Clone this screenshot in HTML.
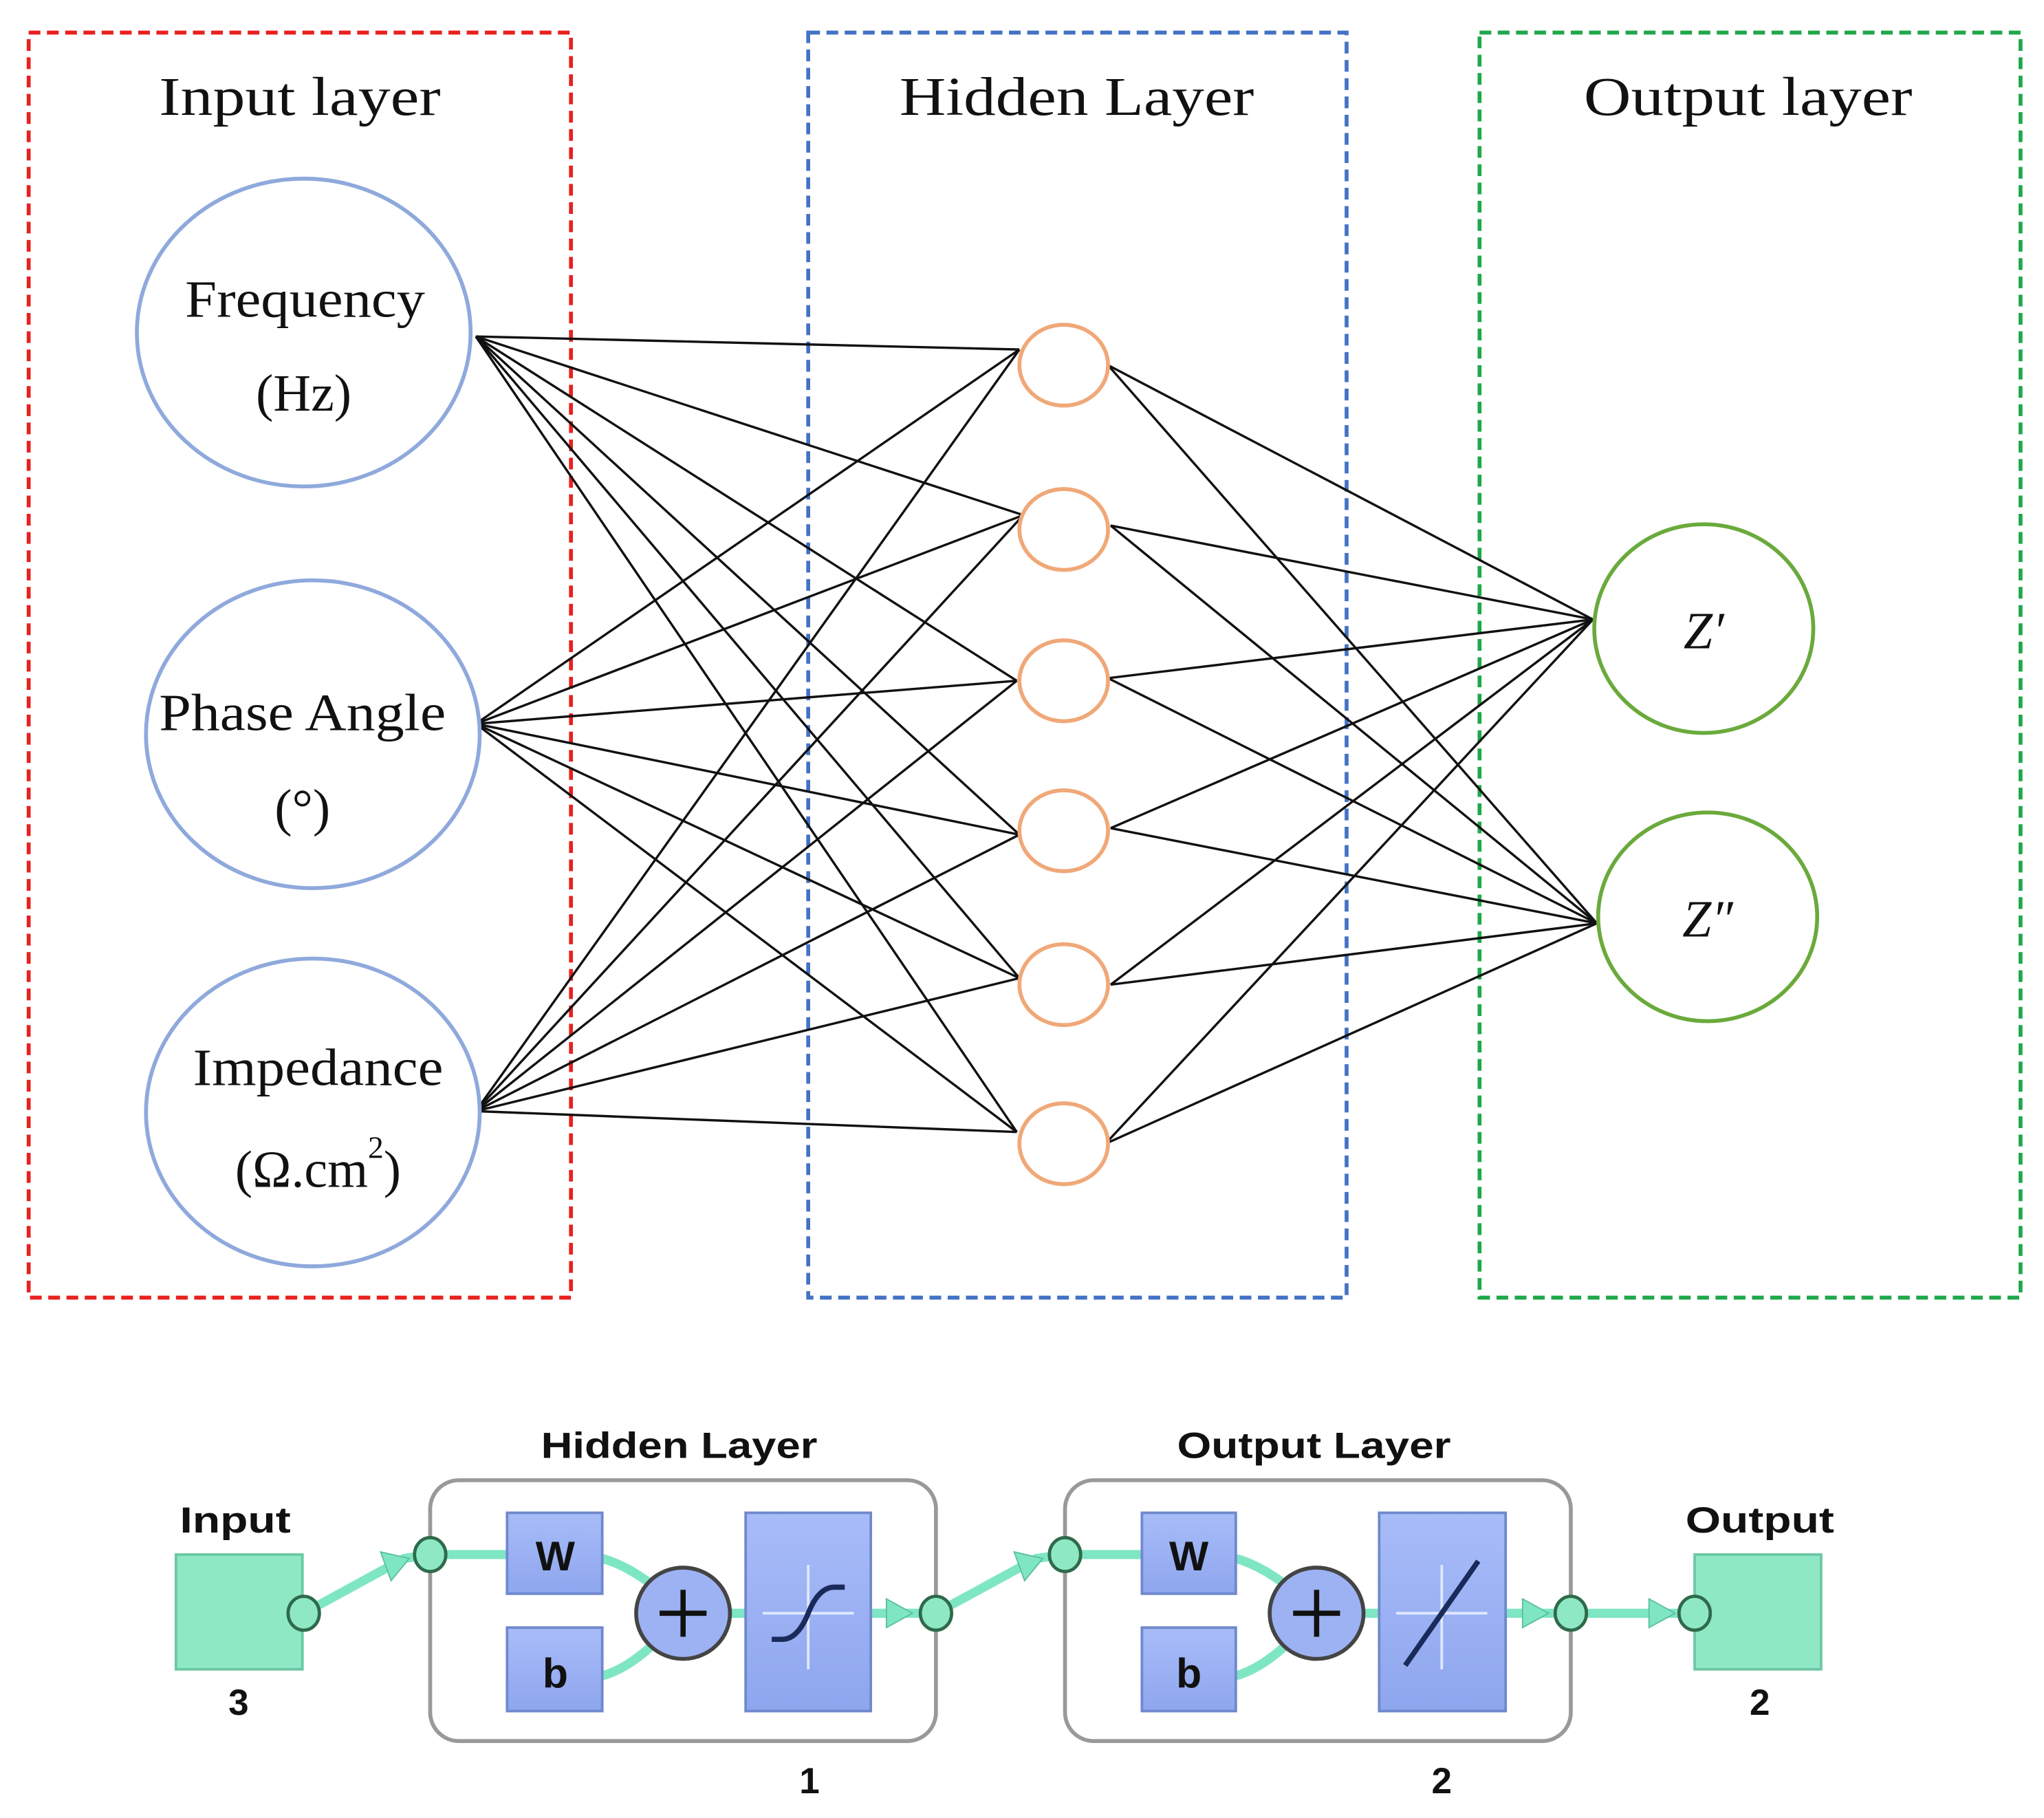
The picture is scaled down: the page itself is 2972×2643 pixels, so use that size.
<!DOCTYPE html>
<html><head><meta charset="utf-8"><style>
html,body{margin:0;padding:0;background:#fff;}
svg{display:block}
.t{font-family:"Liberation Serif",serif;fill:#111}
.s{font-family:"Liberation Sans",sans-serif;font-weight:bold;fill:#111}
</style></head><body>
<svg width="2972" height="2643" viewBox="0 0 1568 1394" preserveAspectRatio="none" xmlns="http://www.w3.org/2000/svg">
<defs>
<linearGradient id="bl" x1="0" y1="0" x2="0" y2="1"><stop offset="0" stop-color="#a8bcf8"/><stop offset="1" stop-color="#8ea6ee"/></linearGradient>
</defs>
<rect x="22" y="25" width="416" height="970" fill="none" stroke="#e8211f" stroke-width="3" stroke-dasharray="9,5"/>
<rect x="620" y="25" width="413" height="970" fill="none" stroke="#4472c4" stroke-width="3" stroke-dasharray="9,5"/>
<rect x="1135" y="25" width="415" height="970" fill="none" stroke="#1fa84a" stroke-width="3" stroke-dasharray="9,5"/>
<text class="t" x="122" y="88" font-size="42" textLength="216" lengthAdjust="spacingAndGlyphs">Input layer</text>
<text class="t" x="690" y="88" font-size="42" textLength="272" lengthAdjust="spacingAndGlyphs">Hidden Layer</text>
<text class="t" x="1215" y="88" font-size="42" textLength="252" lengthAdjust="spacingAndGlyphs">Output layer</text>
<g stroke="#111" stroke-width="1.8">
<line x1="365" y1="258" x2="782" y2="268"/><line x1="365" y1="258" x2="785" y2="395"/><line x1="365" y1="258" x2="780" y2="522"/><line x1="365" y1="258" x2="782" y2="640"/><line x1="365" y1="258" x2="782" y2="750"/><line x1="365" y1="258" x2="780" y2="868"/>
<line x1="365" y1="555" x2="782" y2="268"/><line x1="365" y1="555" x2="785" y2="395"/><line x1="365" y1="555" x2="780" y2="522"/><line x1="365" y1="555" x2="782" y2="640"/><line x1="365" y1="555" x2="782" y2="750"/><line x1="365" y1="555" x2="780" y2="868"/>
<line x1="365" y1="852" x2="782" y2="268"/><line x1="365" y1="852" x2="785" y2="395"/><line x1="365" y1="852" x2="780" y2="522"/><line x1="365" y1="852" x2="782" y2="640"/><line x1="365" y1="852" x2="782" y2="750"/><line x1="365" y1="852" x2="780" y2="868"/>
<line x1="850" y1="280" x2="1222" y2="475"/><line x1="850" y1="280" x2="1225" y2="708"/>
<line x1="852" y1="403" x2="1222" y2="475"/><line x1="852" y1="403" x2="1225" y2="708"/>
<line x1="850" y1="520" x2="1222" y2="475"/><line x1="850" y1="520" x2="1225" y2="708"/>
<line x1="852" y1="635" x2="1222" y2="475"/><line x1="852" y1="635" x2="1225" y2="708"/>
<line x1="852" y1="755" x2="1222" y2="475"/><line x1="852" y1="755" x2="1225" y2="708"/>
<line x1="848" y1="877" x2="1222" y2="475"/><line x1="848" y1="877" x2="1225" y2="708"/>
</g>
<g fill="#fff" stroke="#8fa9dc" stroke-width="3">
<ellipse cx="233" cy="255" rx="128" ry="118"/>
<ellipse cx="240" cy="563" rx="128" ry="118"/>
<ellipse cx="240" cy="853" rx="128" ry="118"/>
</g>
<text class="t" x="142" y="243" font-size="40" textLength="184" lengthAdjust="spacingAndGlyphs">Frequency</text>
<text class="t" x="233" y="315" font-size="40" text-anchor="middle">(Hz)</text>
<text class="t" x="122" y="560" font-size="40" textLength="220" lengthAdjust="spacingAndGlyphs">Phase Angle</text>
<text class="t" x="232" y="633" font-size="40" text-anchor="middle">(°)</text>
<text class="t" x="148" y="832" font-size="40" textLength="192" lengthAdjust="spacingAndGlyphs">Impedance</text>
<text class="t" x="244" y="910" font-size="40" text-anchor="middle">(Ω.cm<tspan dy="-22" font-size="24">2</tspan><tspan dy="22">)</tspan></text>
<g fill="#fff" stroke="#f0a878" stroke-width="3">
<ellipse cx="816" cy="280" rx="34" ry="31"/><ellipse cx="816" cy="406" rx="34" ry="31"/><ellipse cx="816" cy="522" rx="34" ry="31"/>
<ellipse cx="816" cy="637" rx="34" ry="31"/><ellipse cx="816" cy="755" rx="34" ry="31"/><ellipse cx="816" cy="877" rx="34" ry="31"/>
</g>
<g fill="#fff" stroke="#6aaa3c" stroke-width="3">
<ellipse cx="1307" cy="482" rx="84" ry="80"/><ellipse cx="1310" cy="703" rx="84" ry="80"/>
</g>
<text class="t" x="1307" y="497" font-size="40" font-style="italic" text-anchor="middle">Z′</text>
<text class="t" x="1310" y="718" font-size="40" font-style="italic" text-anchor="middle">Z″</text>

<text class="s" x="415" y="1118" font-size="28" textLength="212" lengthAdjust="spacingAndGlyphs">Hidden Layer</text>
<text class="s" x="903" y="1118" font-size="28" textLength="210" lengthAdjust="spacingAndGlyphs">Output Layer</text>
<text class="s" x="138" y="1175" font-size="28" textLength="85" lengthAdjust="spacingAndGlyphs">Input</text>
<text class="s" x="1293" y="1175" font-size="28" textLength="114" lengthAdjust="spacingAndGlyphs">Output</text>
<text class="s" x="183" y="1315" font-size="28" text-anchor="middle">3</text>
<text class="s" x="1350" y="1315" font-size="28" text-anchor="middle">2</text>
<text class="s" x="621" y="1375" font-size="28" text-anchor="middle">1</text>
<text class="s" x="1106" y="1375" font-size="28" text-anchor="middle">2</text>
<rect x="330" y="1135" width="388" height="200" rx="22" fill="#fff" stroke="#999" stroke-width="3"/>
<rect x="817" y="1135" width="388" height="200" rx="22" fill="#fff" stroke="#999" stroke-width="3"/>
<g stroke="#7fe6c4" stroke-width="7" fill="none">
<path d="M233 1237 L310 1195 L330 1192 L389 1192"/>
<path d="M462 1195 Q480 1200 500 1215"/><path d="M462 1285 Q480 1280 500 1262"/>
<path d="M560 1237 L572 1237"/>
<path d="M668 1237 L718 1237 L795 1195 L817 1192 L876 1192"/>
<path d="M948 1195 Q966 1200 986 1215"/><path d="M948 1285 Q966 1280 986 1262"/>
<path d="M1046 1237 L1058 1237"/>
<path d="M1155 1237 L1300 1237"/>
</g>
<g fill="#7fe6c4" stroke="#5cc0a0" stroke-width="1">
<polygon points="292,1190 314,1195 300,1212"/><polygon points="778,1190 800,1195 786,1212"/>
<polygon points="680,1226 700,1237 680,1248"/><polygon points="1168,1226 1188,1237 1168,1248"/><polygon points="1265,1226 1285,1237 1265,1248"/>
</g>
<rect x="135" y="1192" width="97" height="88" fill="#8ee8c4" stroke="#6cc8a4" stroke-width="2"/>
<rect x="1300" y="1192" width="97" height="88" fill="#8ee8c4" stroke="#6cc8a4" stroke-width="2"/>
<g fill="url(#bl)" stroke="#7088cc" stroke-width="2">
<rect x="389" y="1160" width="73" height="62"/><rect x="389" y="1248" width="73" height="64"/>
<rect x="572" y="1160" width="96" height="152"/>
<rect x="876" y="1160" width="72" height="62"/><rect x="876" y="1248" width="72" height="64"/>
<rect x="1058" y="1160" width="97" height="152"/>
</g>
<text class="s" x="426" y="1204" font-size="32" text-anchor="middle">W</text>
<text class="s" x="426" y="1294" font-size="32" text-anchor="middle">b</text>
<text class="s" x="912" y="1204" font-size="32" text-anchor="middle">W</text>
<text class="s" x="912" y="1294" font-size="32" text-anchor="middle">b</text>
<g stroke="#dfe8ff" stroke-width="2"><line x1="585" y1="1237" x2="655" y2="1237"/><line x1="620" y1="1200" x2="620" y2="1280"/>
<line x1="1071" y1="1237" x2="1141" y2="1237"/><line x1="1106" y1="1200" x2="1106" y2="1280"/></g>
<path d="M592 1257 L600 1257 Q612 1257 620 1237 Q628 1217 640 1217 L648 1217" fill="none" stroke="#1a2a5a" stroke-width="4"/>
<line x1="1078" y1="1277" x2="1134" y2="1197" stroke="#1a2a5a" stroke-width="4"/>
<g fill="#9cb2f2" stroke="#444" stroke-width="3"><ellipse cx="524" cy="1237" rx="36" ry="35"/><ellipse cx="1010" cy="1237" rx="36" ry="35"/></g>
<g stroke="#111" stroke-width="4"><line x1="506" y1="1237" x2="542" y2="1237"/><line x1="524" y1="1219" x2="524" y2="1255"/>
<line x1="992" y1="1237" x2="1028" y2="1237"/><line x1="1010" y1="1219" x2="1010" y2="1255"/></g>
<g fill="#8ee8c4" stroke="#2f6a4a" stroke-width="2.5">
<ellipse cx="233" cy="1237" rx="12" ry="13"/><ellipse cx="330" cy="1192" rx="12" ry="13"/>
<ellipse cx="718" cy="1237" rx="12" ry="13"/><ellipse cx="817" cy="1192" rx="12" ry="13"/>
<ellipse cx="1205" cy="1237" rx="12" ry="13"/><ellipse cx="1300" cy="1237" rx="12" ry="13"/>
</g>
</svg>
</body></html>
